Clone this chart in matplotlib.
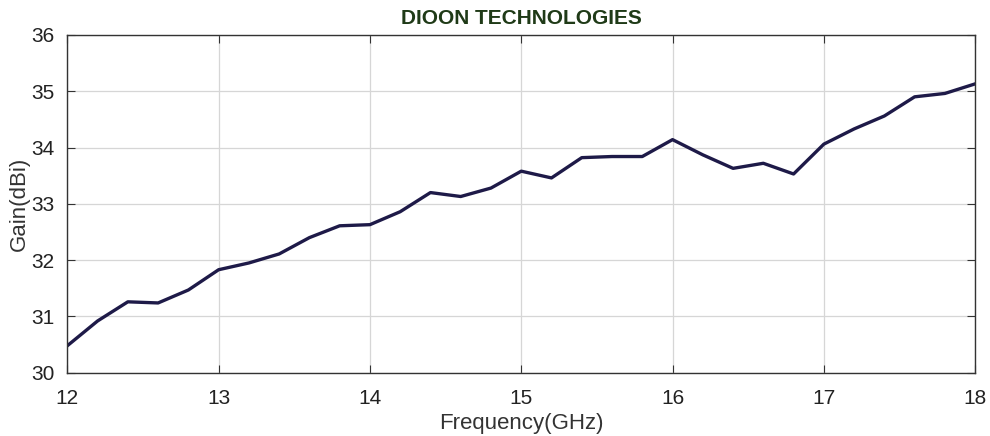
import matplotlib
matplotlib.use("Agg")
import matplotlib.pyplot as plt

freq = [12.0, 12.2, 12.4, 12.6, 12.8, 13.0, 13.2, 13.4, 13.6, 13.8,
        14.0, 14.2, 14.4, 14.6, 14.8, 15.0, 15.2, 15.4, 15.6, 15.8,
        16.0, 16.2, 16.4, 16.6, 16.8, 17.0, 17.2, 17.4, 17.6, 17.8, 18.0]
gain = [30.48, 30.92, 31.26, 31.24, 31.47, 31.83, 31.95, 32.11, 32.40, 32.61,
        32.63, 32.86, 33.20, 33.13, 33.28, 33.58, 33.46, 33.82, 33.84, 33.84,
        34.14, 33.87, 33.63, 33.72, 33.53, 34.06, 34.33, 34.56, 34.90, 34.96, 35.13]

plt.rcParams['font.family'] = ['Liberation Sans', 'DejaVu Sans']

fig = plt.figure(figsize=(9.9, 4.36), dpi=100)
ax = fig.add_axes([0.068, 0.145, 0.917, 0.775])

ax.plot(freq, gain, color='#1e1a48', linewidth=2.4)

ax.set_xlim(12, 18)
ax.set_ylim(30, 36)
ax.set_xticks(range(12, 19))
ax.set_yticks(range(30, 37))
ax.grid(True, color='#d6d6d6', linewidth=0.9)
ax.tick_params(direction='in', top=True, right=True, labelsize=15,
               length=6, color='#333333', labelcolor='#222222')
ax.tick_params(axis='x', pad=12)
ax.tick_params(axis='y', pad=9)
for s in ax.spines.values():
    s.set_color('#333333')
    s.set_linewidth(1.0)

ax.set_xlabel('Frequency(GHz)', fontsize=16, color='#333333', labelpad=3)
ax.set_ylabel('Gain(dBi)', fontsize=16, color='#333333', labelpad=1)
ax.set_title('DIOON TECHNOLOGIES', fontsize=15, fontweight='bold',
             color='#1f3a17', pad=8)

fig.savefig('out.png', dpi=100)
